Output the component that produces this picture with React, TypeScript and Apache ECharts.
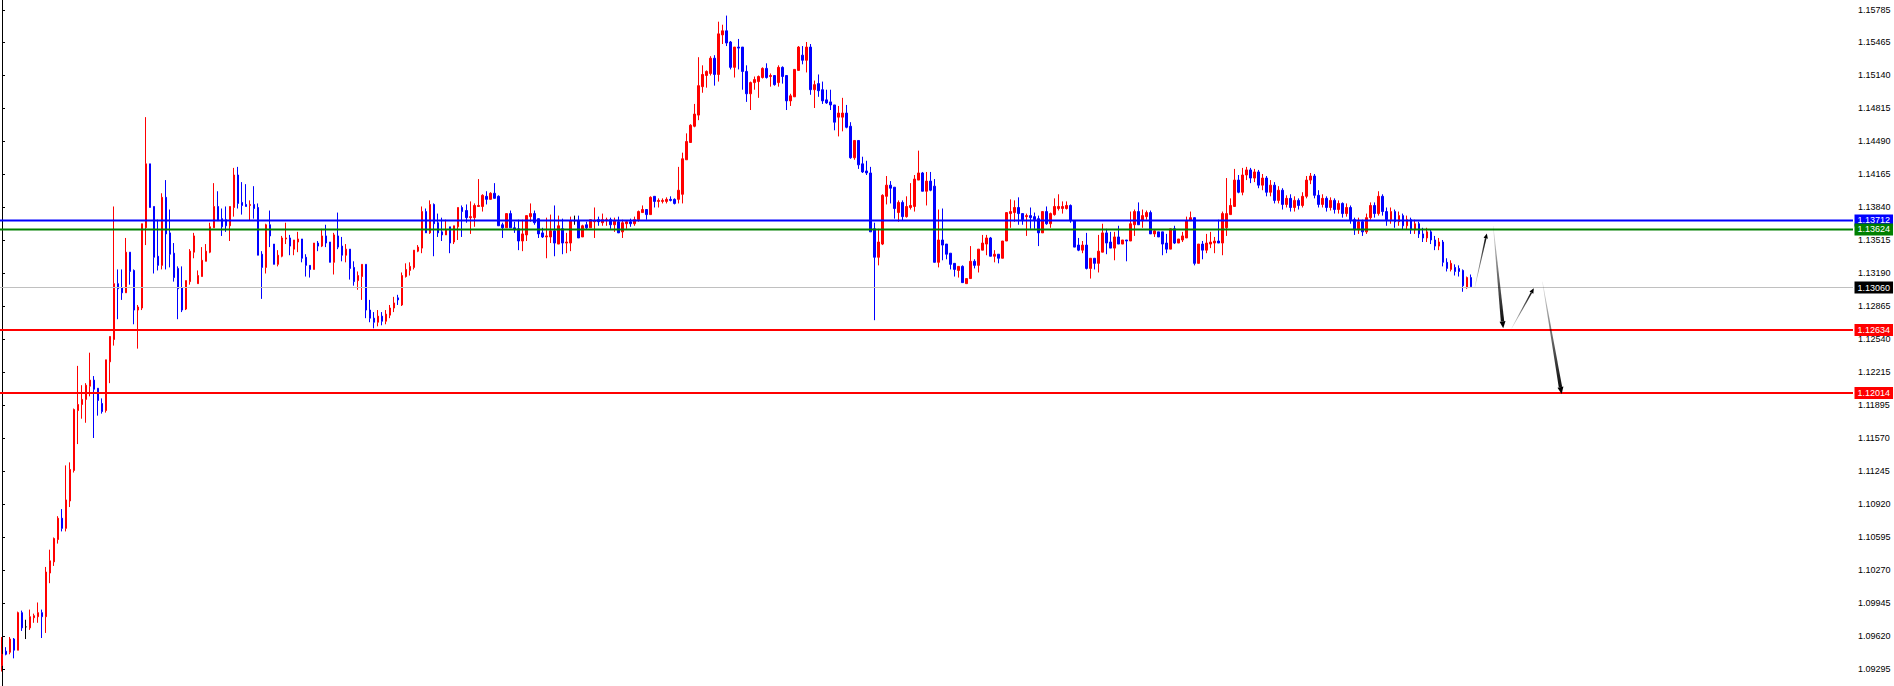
import React, { useEffect, useRef } from "react";
import * as echarts from "echarts";

// Each candle: [open, high, low, close]
const ohlc: number[][] = [
[1.0933,1.0961,1.0927,1.0944],[1.0947,1.0951,1.0943,1.0944],[1.0946,1.0961,1.0944,1.0959],[1.0959,1.0960,1.0940,1.0948],[1.0948,1.0986,1.0948,1.0985],
[1.0985,1.0987,1.0967,1.0970],[1.0971,1.0978,1.0959,1.0971],[1.0970,1.0988,1.0968,1.0981],[1.0980,1.0984,1.0975,1.0982],[1.0981,1.0995,1.0975,1.0985],
[1.0985,1.0988,1.0960,1.0981],[1.0981,1.1030,1.0965,1.1025],[1.1024,1.1047,1.1014,1.1036],[1.1035,1.1059,1.1031,1.1058],[1.1057,1.1080,1.1053,1.1078],
[1.1078,1.1087,1.1065,1.1068],[1.1068,1.1130,1.1065,1.1096],[1.1095,1.1133,1.1089,1.1126],[1.1125,1.1186,1.1123,1.1185],[1.1184,1.1228,1.1151,1.1190],
[1.1190,1.1209,1.1176,1.1195],[1.1195,1.1211,1.1172,1.1209],[1.1208,1.1241,1.1198,1.1214],[1.1214,1.1218,1.1157,1.1205],[1.1206,1.1206,1.1179,1.1194],
[1.1191,1.1196,1.1181,1.1183],[1.1184,1.1234,1.1182,1.1234],[1.1232,1.1257,1.1211,1.1257],[1.1254,1.1385,1.1248,1.1309],[1.1309,1.1323,1.1274,1.1304],
[1.1305,1.1323,1.1293,1.1300],[1.1300,1.1354,1.1300,1.1340],[1.1340,1.1340,1.1308,1.1321],[1.1322,1.1323,1.1269,1.1283],[1.1283,1.1288,1.1245,1.1286],
[1.1285,1.1368,1.1283,1.1368],[1.1364,1.1473,1.1347,1.1427],[1.1427,1.1427,1.1384,1.1384],[1.1385,1.1385,1.1319,1.1335],[1.1336,1.1372,1.1322,1.1327],
[1.1327,1.1398,1.1323,1.1394],[1.1394,1.1411,1.1323,1.1358],[1.1359,1.1382,1.1325,1.1338],[1.1339,1.1349,1.1311,1.1315],[1.1324,1.1326,1.1274,1.1304],
[1.1305,1.1326,1.1281,1.1283],[1.1284,1.1312,1.1283,1.1312],[1.1311,1.1343,1.1308,1.1341],[1.1340,1.1359,1.1334,1.1356],[1.1309,1.1322,1.1309,1.1317],
[1.1316,1.1345,1.1316,1.1332],[1.1331,1.1348,1.1331,1.1341],[1.1340,1.1369,1.1339,1.1365],[1.1364,1.1408,1.1364,1.1385],[1.1385,1.1400,1.1371,1.1371],
[1.1373,1.1383,1.1356,1.1365],[1.1372,1.1385,1.1360,1.1366],[1.1366,1.1385,1.1351,1.1385],[1.1384,1.1423,1.1375,1.1416],[1.1416,1.1424,1.1383,1.1388],
[1.1389,1.1409,1.1377,1.1386],[1.1387,1.1407,1.1385,1.1385],[1.1386,1.1391,1.1371,1.1387],[1.1387,1.1405,1.1373,1.1383],[1.1384,1.1388,1.1337,1.1337],
[1.1338,1.1341,1.1294,1.1325],[1.1325,1.1368,1.1319,1.1367],[1.1367,1.1381,1.1345,1.1356],[1.1348,1.1348,1.1328,1.1328],[1.1328,1.1342,1.1326,1.1337],
[1.1336,1.1356,1.1335,1.1354],[1.1353,1.1369,1.1348,1.1354],[1.1354,1.1357,1.1337,1.1346],[1.1343,1.1352,1.1337,1.1352],[1.1350,1.1360,1.1340,1.1353],
[1.1353,1.1353,1.1330,1.1334],[1.1335,1.1338,1.1316,1.1327],[1.1327,1.1327,1.1315,1.1323],[1.1323,1.1349,1.1323,1.1349],[1.1349,1.1351,1.1341,1.1346],
[1.1346,1.1363,1.1345,1.1356],[1.1356,1.1367,1.1345,1.1349],[1.1350,1.1350,1.1330,1.1330],[1.1330,1.1359,1.1318,1.1357],[1.1356,1.1379,1.1343,1.1345],
[1.1346,1.1355,1.1331,1.1337],[1.1337,1.1348,1.1330,1.1343],[1.1343,1.1343,1.1313,1.1324],[1.1325,1.1331,1.1307,1.1311],[1.1312,1.1321,1.1303,1.1317],
[1.1316,1.1328,1.1293,1.1328],[1.1328,1.1328,1.1275,1.1283],[1.1283,1.1293,1.1271,1.1275],[1.1275,1.1281,1.1265,1.1271],[1.1271,1.1283,1.1267,1.1277],
[1.1277,1.1281,1.1268,1.1272],[1.1272,1.1283,1.1269,1.1279],[1.1278,1.1288,1.1275,1.1285],[1.1285,1.1296,1.1281,1.1290],[1.1295,1.1298,1.1288,1.1293],
[1.1288,1.1320,1.1287,1.1317],[1.1316,1.1329,1.1315,1.1323],[1.1322,1.1330,1.1317,1.1326],[1.1325,1.1342,1.1323,1.1342],[1.1341,1.1347,1.1340,1.1345],
[1.1344,1.1385,1.1339,1.1380],[1.1380,1.1383,1.1359,1.1359],[1.1359,1.1391,1.1358,1.1387],[1.1387,1.1388,1.1336,1.1368],[1.1369,1.1378,1.1355,1.1359],
[1.1360,1.1374,1.1351,1.1357],[1.1357,1.1372,1.1357,1.1362],[1.1365,1.1365,1.1339,1.1349],[1.1350,1.1366,1.1348,1.1366],[1.1365,1.1384,1.1352,1.1384],
[1.1384,1.1386,1.1355,1.1380],[1.1381,1.1387,1.1369,1.1374],[1.1374,1.1390,1.1358,1.1375],[1.1374,1.1388,1.1365,1.1386],[1.1385,1.1412,1.1385,1.1386],
[1.1385,1.1397,1.1380,1.1396],[1.1395,1.1400,1.1387,1.1392],[1.1392,1.1399,1.1392,1.1398],[1.1398,1.1408,1.1393,1.1393],[1.1395,1.1396,1.1366,1.1366],
[1.1367,1.1369,1.1354,1.1364],[1.1364,1.1378,1.1364,1.1378],[1.1378,1.1381,1.1364,1.1364],[1.1364,1.1370,1.1359,1.1362],[1.1363,1.1372,1.1342,1.1351],
[1.1351,1.1372,1.1341,1.1358],[1.1357,1.1376,1.1351,1.1376],[1.1375,1.1388,1.1370,1.1378],[1.1378,1.1381,1.1367,1.1369],[1.1373,1.1373,1.1354,1.1358],
[1.1359,1.1364,1.1354,1.1355],[1.1355,1.1374,1.1334,1.1356],[1.1355,1.1377,1.1349,1.1361],[1.1361,1.1386,1.1336,1.1349],[1.1348,1.1376,1.1348,1.1366],
[1.1363,1.1373,1.1338,1.1349],[1.1349,1.1359,1.1339,1.1350],[1.1349,1.1375,1.1341,1.1371],[1.1371,1.1376,1.1367,1.1371],[1.1371,1.1376,1.1354,1.1354],
[1.1355,1.1367,1.1355,1.1366],[1.1367,1.1370,1.1362,1.1364],[1.1364,1.1372,1.1364,1.1372],[1.1370,1.1384,1.1354,1.1371],[1.1372,1.1375,1.1366,1.1370],
[1.1369,1.1378,1.1366,1.1372],[1.1371,1.1374,1.1366,1.1372],[1.1372,1.1374,1.1363,1.1367],[1.1367,1.1374,1.1360,1.1371],[1.1370,1.1375,1.1359,1.1359],
[1.1360,1.1372,1.1354,1.1369],[1.1368,1.1371,1.1363,1.1370],[1.1370,1.1373,1.1365,1.1368],[1.1368,1.1375,1.1366,1.1372],[1.1372,1.1381,1.1370,1.1380],
[1.1379,1.1386,1.1379,1.1382],[1.1382,1.1382,1.1372,1.1377],[1.1377,1.1395,1.1377,1.1394],[1.1395,1.1395,1.1384,1.1390],[1.1390,1.1393,1.1384,1.1391],
[1.1390,1.1393,1.1388,1.1391],[1.1390,1.1394,1.1388,1.1392],[1.1392,1.1395,1.1390,1.1391],[1.1392,1.1393,1.1387,1.1388],[1.1392,1.1424,1.1388,1.1401],
[1.1397,1.1438,1.1388,1.1432],[1.1431,1.1457,1.1431,1.1449],[1.1448,1.1466,1.1448,1.1465],[1.1464,1.1486,1.1463,1.1476],[1.1475,1.1532,1.1470,1.1504],
[1.1503,1.1524,1.1497,1.1515],[1.1514,1.1519,1.1502,1.1518],[1.1516,1.1533,1.1514,1.1531],[1.1531,1.1534,1.1504,1.1515],[1.1515,1.1567,1.1508,1.1555],
[1.1554,1.1564,1.1545,1.1558],[1.1558,1.1573,1.1543,1.1546],[1.1547,1.1548,1.1520,1.1522],[1.1522,1.1542,1.1512,1.1542],[1.1542,1.1550,1.1520,1.1541],
[1.1542,1.1542,1.1500,1.1518],[1.1518,1.1524,1.1488,1.1496],[1.1496,1.1508,1.1480,1.1507],[1.1507,1.1513,1.1500,1.1510],[1.1508,1.1514,1.1492,1.1513],
[1.1512,1.1522,1.1511,1.1521],[1.1521,1.1526,1.1511,1.1512],[1.1513,1.1516,1.1503,1.1514],[1.1514,1.1514,1.1504,1.1505],[1.1507,1.1524,1.1503,1.1522],
[1.1522,1.1523,1.1506,1.1513],[1.1514,1.1514,1.1480,1.1489],[1.1489,1.1496,1.1484,1.1494],[1.1493,1.1520,1.1493,1.1520],[1.1519,1.1543,1.1519,1.1542],
[1.1534,1.1543,1.1525,1.1529],[1.1529,1.1547,1.1517,1.1542],[1.1542,1.1545,1.1495,1.1500],[1.1500,1.1509,1.1482,1.1505],[1.1506,1.1515,1.1493,1.1499],
[1.1500,1.1508,1.1486,1.1489],[1.1490,1.1500,1.1486,1.1487],[1.1488,1.1500,1.1480,1.1485],[1.1485,1.1485,1.1460,1.1468],[1.1473,1.1484,1.1454,1.1477],
[1.1473,1.1492,1.1459,1.1477],[1.1477,1.1485,1.1462,1.1463],[1.1464,1.1468,1.1432,1.1433],[1.1433,1.1450,1.1431,1.1450],[1.1450,1.1450,1.1422,1.1426],
[1.1427,1.1434,1.1418,1.1419],[1.1420,1.1430,1.1416,1.1418],[1.1418,1.1424,1.1360,1.1360],[1.1363,1.1369,1.1273,1.1335],[1.1335,1.1363,1.1327,1.1350],
[1.1348,1.1397,1.1347,1.1396],[1.1395,1.1415,1.1387,1.1406],[1.1406,1.1410,1.1388,1.1403],[1.1404,1.1404,1.1373,1.1383],[1.1379,1.1391,1.1370,1.1389],
[1.1389,1.1391,1.1371,1.1375],[1.1375,1.1395,1.1374,1.1385],[1.1384,1.1408,1.1382,1.1386],[1.1385,1.1416,1.1380,1.1412],[1.1411,1.1440,1.1411,1.1418],
[1.1418,1.1419,1.1400,1.1400],[1.1400,1.1419,1.1386,1.1410],[1.1410,1.1419,1.1400,1.1401],[1.1405,1.1412,1.1330,1.1330],[1.1330,1.1382,1.1325,1.1352],
[1.1352,1.1383,1.1332,1.1347],[1.1348,1.1348,1.1333,1.1338],[1.1339,1.1339,1.1323,1.1328],[1.1329,1.1329,1.1316,1.1323],[1.1322,1.1326,1.1315,1.1326],
[1.1326,1.1327,1.1310,1.1310],[1.1309,1.1314,1.1309,1.1314],[1.1314,1.1346,1.1314,1.1331],[1.1331,1.1333,1.1324,1.1327],[1.1327,1.1343,1.1320,1.1343],
[1.1342,1.1357,1.1342,1.1349],[1.1348,1.1357,1.1337,1.1354],[1.1354,1.1355,1.1336,1.1336],[1.1336,1.1342,1.1330,1.1338],[1.1338,1.1338,1.1329,1.1334],
[1.1334,1.1351,1.1334,1.1351],[1.1351,1.1379,1.1351,1.1379],[1.1378,1.1392,1.1364,1.1380],[1.1379,1.1391,1.1370,1.1384],[1.1384,1.1394,1.1367,1.1378],
[1.1378,1.1378,1.1367,1.1372],[1.1375,1.1378,1.1356,1.1376],[1.1376,1.1384,1.1363,1.1374],[1.1375,1.1379,1.1363,1.1372],[1.1373,1.1376,1.1346,1.1359],
[1.1359,1.1380,1.1359,1.1380],[1.1380,1.1385,1.1367,1.1368],[1.1368,1.1379,1.1364,1.1378],[1.1377,1.1393,1.1376,1.1385],[1.1383,1.1397,1.1381,1.1385],
[1.1383,1.1390,1.1378,1.1385],[1.1383,1.1390,1.1382,1.1386],[1.1386,1.1387,1.1369,1.1371],[1.1371,1.1371,1.1345,1.1345],[1.1347,1.1354,1.1341,1.1342],
[1.1342,1.1351,1.1339,1.1347],[1.1347,1.1359,1.1323,1.1324],[1.1324,1.1334,1.1314,1.1334],[1.1334,1.1334,1.1323,1.1329],[1.1329,1.1357,1.1320,1.1341],
[1.1340,1.1368,1.1340,1.1359],[1.1359,1.1363,1.1338,1.1349],[1.1350,1.1360,1.1344,1.1344],[1.1344,1.1360,1.1332,1.1355],[1.1355,1.1366,1.1348,1.1348],
[1.1348,1.1352,1.1348,1.1352],[1.1352,1.1352,1.1331,1.1351],[1.1351,1.1380,1.1351,1.1368],[1.1367,1.1382,1.1356,1.1380],[1.1380,1.1389,1.1367,1.1367],
[1.1371,1.1382,1.1364,1.1376],[1.1375,1.1381,1.1372,1.1379],[1.1379,1.1381,1.1358,1.1358],[1.1358,1.1362,1.1355,1.1361],[1.1360,1.1360,1.1355,1.1355],
[1.1360,1.1360,1.1337,1.1348],[1.1349,1.1358,1.1339,1.1343],[1.1343,1.1363,1.1343,1.1363],[1.1363,1.1366,1.1348,1.1349],[1.1349,1.1353,1.1349,1.1353],
[1.1352,1.1360,1.1350,1.1356],[1.1354,1.1375,1.1354,1.1371],[1.1371,1.1380,1.1371,1.1374],[1.1374,1.1374,1.1327,1.1329],[1.1329,1.1348,1.1329,1.1348],
[1.1348,1.1351,1.1333,1.1342],[1.1342,1.1358,1.1339,1.1349],[1.1348,1.1360,1.1344,1.1350],[1.1349,1.1355,1.1339,1.1351],[1.1351,1.1372,1.1349,1.1349],
[1.1349,1.1380,1.1337,1.1378],[1.1364,1.1413,1.1356,1.1378],[1.1377,1.1393,1.1377,1.1386],[1.1385,1.1422,1.1385,1.1411],[1.1411,1.1416,1.1398,1.1399],
[1.1399,1.1423,1.1396,1.1416],[1.1416,1.1424,1.1411,1.1421],[1.1421,1.1423,1.1408,1.1413],[1.1413,1.1422,1.1409,1.1419],[1.1419,1.1421,1.1403,1.1406],
[1.1406,1.1417,1.1401,1.1413],[1.1413,1.1415,1.1395,1.1399],[1.1399,1.1411,1.1395,1.1406],[1.1406,1.1409,1.1388,1.1391],[1.1391,1.1405,1.1388,1.1401],
[1.1401,1.1403,1.1382,1.1387],[1.1387,1.1396,1.1384,1.1393],[1.1393,1.1397,1.1380,1.1384],[1.1384,1.1395,1.1380,1.1391],[1.1391,1.1393,1.1382,1.1386],
[1.1386,1.1399,1.1384,1.1395],[1.1395,1.1415,1.1393,1.1411],[1.1411,1.1418,1.1407,1.1415],[1.1415,1.1417,1.1393,1.1396],[1.1396,1.1401,1.1384,1.1387],
[1.1387,1.1397,1.1384,1.1393],[1.1393,1.1395,1.1380,1.1384],[1.1384,1.1394,1.1381,1.1391],[1.1391,1.1393,1.1378,1.1382],[1.1382,1.1391,1.1378,1.1388],
[1.1388,1.1389,1.1374,1.1378],[1.1378,1.1388,1.1375,1.1384],[1.1384,1.1386,1.1368,1.1372],[1.1372,1.1374,1.1357,1.1362],[1.1362,1.1374,1.1358,1.1370],
[1.1370,1.1372,1.1356,1.1360],[1.1360,1.1378,1.1358,1.1374],[1.1374,1.1389,1.1372,1.1386],[1.1386,1.1389,1.1374,1.1378],[1.1378,1.1400,1.1376,1.1395],
[1.1395,1.1397,1.1376,1.1380],[1.1380,1.1384,1.1366,1.1372],[1.1372,1.1384,1.1368,1.1380],[1.1380,1.1382,1.1364,1.1370],[1.1370,1.1380,1.1366,1.1376],
[1.1376,1.1378,1.1362,1.1366],[1.1366,1.1376,1.1362,1.1372],[1.1372,1.1374,1.1358,1.1362],[1.1362,1.1372,1.1358,1.1368],[1.1368,1.1370,1.1354,1.1358],
[1.1358,1.1364,1.1350,1.1354],[1.1354,1.1364,1.1350,1.1360],[1.1360,1.1362,1.1348,1.1352],[1.1352,1.1356,1.1342,1.1346],[1.1346,1.1354,1.1342,1.1350],
[1.1350,1.1352,1.1326,1.1330],[1.1330,1.1334,1.1321,1.1324],[1.1323,1.1332,1.1321,1.1329],[1.1325,1.1328,1.1317,1.1321],[1.1324,1.1327,1.1316,1.1321],
[1.1322,1.1323,1.1301,1.1307],[1.1305,1.1316,1.1304,1.1315],[1.1315,1.1318,1.1306,1.1306],
];

const barSlots = 463;
const priceMin = 1.091275;
const priceMax = 1.158835;
const tickValues = [1.09295, 1.0962, 1.09945, 1.1027, 1.10595, 1.1092, 1.11245, 1.1157, 1.11895, 1.12215, 1.1254, 1.12865, 1.1319, 1.13515, 1.1384, 1.14165, 1.1449, 1.14815, 1.1514, 1.15465, 1.15785];
const levelPrices = [1.13712, 1.13624, 1.1306, 1.12634, 1.12014];
const arrowStartBar = [368, 372.6, 377.2, 384.9];
const arrowStartPrice = [1.13053, 1.13657, 1.1265, 1.13109];
const arrowEndBar = [371, 375.1, 382.75, 389.7];
const arrowEndPrice = [1.13585, 1.1265, 1.13044, 1.12003];

const levelLook = [
  { line: "#0000ff", tag: "#0000ff", width: 2 },
  { line: "#008000", tag: "#008000", width: 2 },
  { line: "#c0c0c0", tag: "#000000", width: 1 },
  { line: "#ff0000", tag: "#ff0000", width: 2 },
  { line: "#ff0000", tag: "#ff0000", width: 2 },
];

export default function App() {
  const ref = useRef<HTMLDivElement>(null);
  useEffect(() => {
    const chart = echarts.init(ref.current as HTMLDivElement, undefined, { renderer: "svg" });
    const categories = Array.from({ length: barSlots }, (_, i) => String(i));
    const candleData = ohlc.map(([o, h, l, c]) => [o, c, l, h]);
    const arrowData = arrowStartBar.map((b, k) => [b, arrowStartPrice[k], arrowEndBar[k], arrowEndPrice[k]]);
    const levelData = levelPrices.map((p, k) => [k, p]);

    const renderArrow = (params: any, api: any) => {
      const a = api.coord([api.value(0), api.value(1)]);
      const b = api.coord([api.value(2), api.value(3)]);
      const down = api.value(3) < api.value(1);
      const dx = b[0] - a[0];
      const dy = b[1] - a[1];
      const len = Math.hypot(dx, dy) || 1;
      const ux = dx / len, uy = dy / len;
      const nx = -uy, ny = ux;
      const endHalf = down ? 1.7 : 0.8;
      const headLen = down ? 7 : 5;
      const headHalf = down ? 3 : 2.2;
      const bx = b[0] - ux * headLen, by = b[1] - uy * headLen;
      const shaft = [
        [a[0] + nx * 0.2, a[1] + ny * 0.2],
        [bx + nx * endHalf, by + ny * endHalf],
        [bx - nx * endHalf, by - ny * endHalf],
        [a[0] - nx * 0.2, a[1] - ny * 0.2],
      ];
      const head = [
        [b[0], b[1]],
        [bx + nx * headHalf, by + ny * headHalf],
        [bx - nx * headHalf, by - ny * headHalf],
      ];
      const grad = new echarts.graphic.LinearGradient(a[0], a[1], b[0], b[1], [
        { offset: 0, color: "rgba(0,0,0,0.1)" },
        { offset: 0.45, color: "rgba(0,0,0,0.55)" },
        { offset: 1, color: "#000000" },
      ], true);
      return {
        type: "group",
        children: [
          { type: "polygon", shape: { points: shaft }, style: { fill: grad } },
          { type: "polygon", shape: { points: head }, style: { fill: "#000000" } },
        ],
      };
    };

    const renderLevel = (params: any, api: any) => {
      const k = api.value(0);
      const p = api.value(1);
      const look = levelLook[k];
      const cs = params.coordSys;
      let y = api.coord([0, p])[1];
      if (look.width === 1) y = Math.round(y) + 0.5;
      return {
        type: "group",
        children: [
          {
            type: "line",
            shape: { x1: cs.x, y1: y, x2: cs.x + cs.width, y2: y },
            style: { stroke: look.line, lineWidth: look.width },
          },
          {
            type: "text",
            x: cs.x + cs.width + 1.5,
            y: y,
            style: {
              text: p.toFixed(5),
              fill: "#ffffff",
              backgroundColor: look.tag,
              padding: [2, 3, 1, 3],
              fontSize: 9,
              fontFamily: "Liberation Sans",
              align: "left",
              verticalAlign: "middle",
            },
          },
        ],
      };
    };

    chart.setOption({
      animation: false,
      backgroundColor: "#ffffff",
      grid: { left: 0, right: 41, top: 0, bottom: 0 },
      xAxis: [
        { type: "category", data: categories, show: false, boundaryGap: true },
        { type: "value", min: -0.5, max: barSlots - 0.5, show: false },
      ],
      yAxis: {
        type: "value",
        position: "right",
        min: priceMin,
        max: priceMax,
        splitLine: { show: false },
        axisLine: { show: true, lineStyle: { color: "#000000", width: 1 } },
        axisTick: { show: true, length: 3, inside: false, customValues: tickValues, lineStyle: { color: "#000000" } },
        axisLabel: {
          customValues: tickValues,
          formatter: (v: number) => v.toFixed(5),
          color: "#000000",
          fontSize: 9,
          fontFamily: "Liberation Sans",
          margin: 5,
        },
      },
      series: [
        {
          type: "candlestick",
          data: candleData,
          barWidth: 2,
          itemStyle: {
            color: "#ff0000",
            color0: "#0000ff",
            borderColor: "#ff0000",
            borderColor0: "#0000ff",
            borderColorDoji: "#000000",
            borderWidth: 1,
          },
        },
        {
          type: "custom",
          xAxisIndex: 1,
          yAxisIndex: 0,
          renderItem: renderLevel,
          data: levelData,
          clip: false,
          z: 5,
          silent: true,
        },
        {
          type: "custom",
          xAxisIndex: 1,
          yAxisIndex: 0,
          renderItem: renderArrow,
          data: arrowData,
          z: 10,
          silent: true,
        },
      ],
    });
    return () => chart.dispose();
  }, []);
  return <div ref={ref} style={{ position: "fixed", left: 0, top: 0, width: 1894, height: 686 }} />;
}
